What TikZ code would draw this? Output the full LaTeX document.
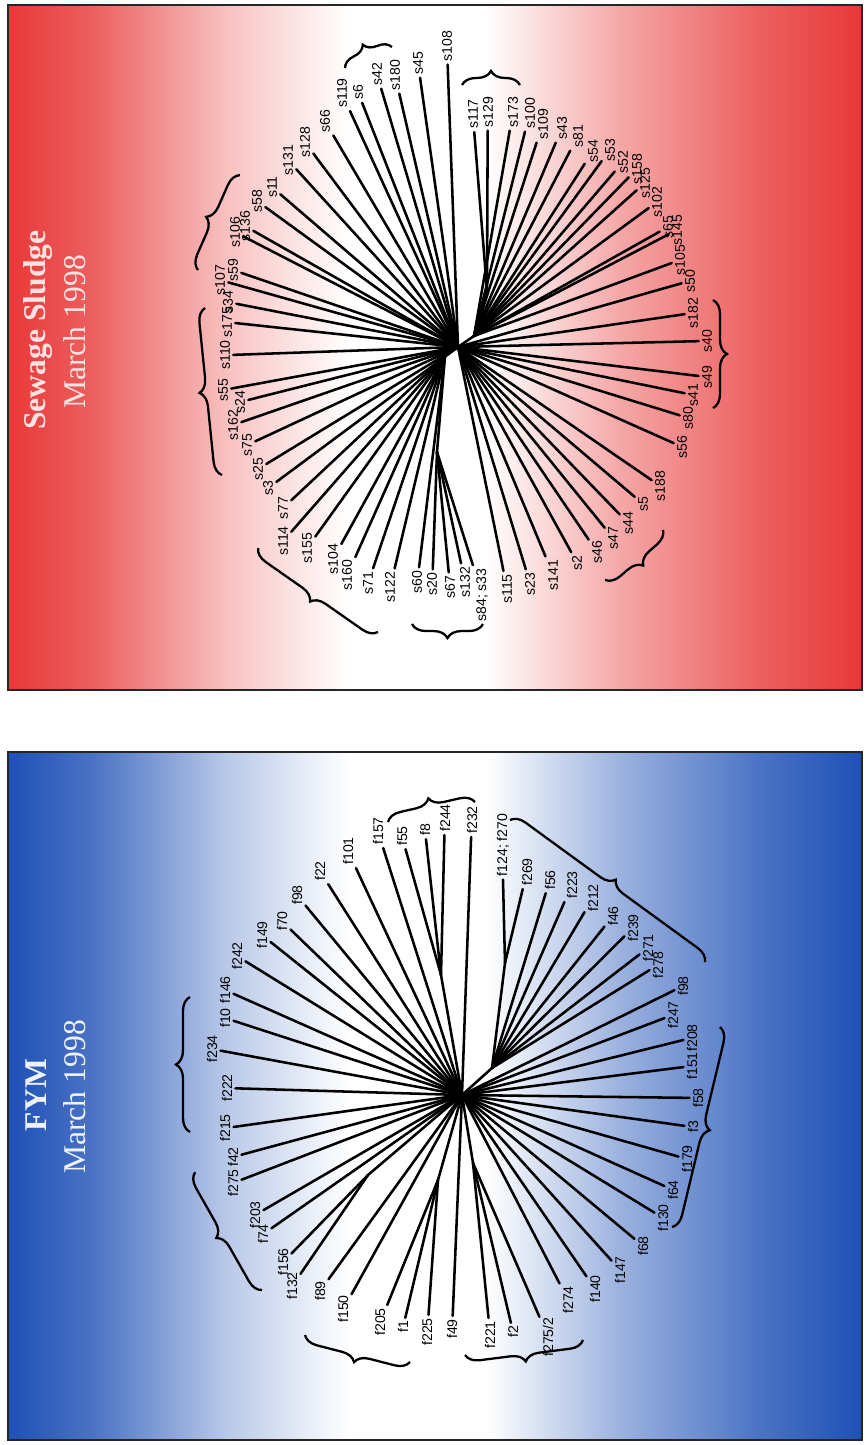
\documentclass[tikz,border=0pt]{standalone}
\usepackage{fontspec}
\setmainfont{Liberation Serif}
\setsansfont{Liberation Sans}
\usetikzlibrary{calc, decorations.pathreplacing}
\definecolor{sludgered}{RGB}{232,56,56}
\definecolor{fymblue}{RGB}{30,80,182}
\definecolor{sludgetitle}{RGB}{252,226,226}
\definecolor{fymtitle}{RGB}{238,242,252}
\colorlet{sludgeA}{sludgered!80!white}
\colorlet{sludgeB}{sludgered!30!white}
\colorlet{sludgeC}{sludgered!45!white}
\colorlet{fymA}{fymblue!80!white}
\colorlet{fymB}{fymblue!30!white}
\colorlet{fymC}{fymblue!45!white}
\pgfdeclarehorizontalshading{sludgefade}{100bp}{color(0bp)=(sludgered); color(25bp)=(sludgered); color(30bp)=(sludgeA); color(38bp)=(sludgeB); color(45bp)=(white); color(53bp)=(white); color(61bp)=(sludgeC); color(69bp)=(sludgeA); color(75bp)=(sludgered); color(100bp)=(sludgered)}
\pgfdeclarehorizontalshading{fymfade}{100bp}{color(0bp)=(fymblue); color(25bp)=(fymblue); color(30bp)=(fymA); color(38bp)=(fymB); color(45bp)=(white); color(53bp)=(white); color(61bp)=(fymC); color(69bp)=(fymA); color(75bp)=(fymblue); color(100bp)=(fymblue)}

\begin{document}
\begin{tikzpicture}[x=0.02cm, y=-0.02cm,
    leaf/.style={font=\sffamily\fontsize{8}{8}\selectfont, rotate=90, inner sep=1.2pt},
    branch/.style={line width=1.45pt, line cap=round},
    panel/.style={draw=black!85, line width=0.6pt},
    headline/.style={font=\fontsize{18}{18}\selectfont, rotate=90},
    grp/.style={decorate, decoration={brace, amplitude=8pt}, line width=1.3pt}]
\useasboundingbox (0,0) rectangle (866,1445);

% panels
\shade[shading=sludgefade] (8,5) rectangle (862,690);
\draw[panel] (8,5) rectangle (862,690);
\shade[shading=fymfade] (8,752) rectangle (862,1440);
\draw[panel] (8,752) rectangle (862,1440);

\node[headline, text=sludgetitle] (stitle) at (38,330) {\bfseries Sewage Sludge};
\node[headline, text=sludgetitle] (sdate) at (75,332) {March 1998};
\node[headline, text=fymtitle] (ftitle) at (36,1095) {\bfseries FYM};
\node[headline, text=fymtitle] (fdate) at (75,1097) {March 1998};

% sewage sludge tree
\coordinate (sroot) at (458,347);
\coordinate (sur) at (474,336);
\coordinate (su1) at (487,290);
\coordinate (sll) at (445,356);
\coordinate (sl1) at (437,452);
\foreach \a/\b in {sur/sroot, su1/sur, sll/sroot, sl1/sll}
  \draw[branch] (\a) -- (\b);

\foreach \lx/\ly/\lab/\prt [count=\i] in {
  447/46/s108/sroot, 418/63/s45/sroot, 395/75/s180/sroot, 377/74/s42/sroot,
  358/92/s6/sroot, 342/93/s119/sroot, 325/121/s66/sroot, 305/142/s128/sroot,
  288/160/s131/sroot, 272/187/s11/sroot, 257/201/s58/sroot, 245/226/s136/sroot,
  235/232/s106/sroot, 233/270/s59/sroot, 220/280/s107/sroot, 228/302/s34/sroot,
  227/322/s175/sroot, 225/355/s110/sroot, 223/390/s55/sroot, 240/402/s24/sroot,
  233/425/s162/sroot, 247/445/s75/sroot, 258/469/s25/sroot, 268/488/s3/sroot,
  283/508/s77/sll, 283/541/s114/sll, 307/548/s155/sll, 333/559/s104/sll,
  347/575/s160/sll, 368/583/s71/sll, 390/587/s122/sll, 417/582/s60/sll,
  432/584/s20/sl1, 450/587/s67/sl1, 465/582/s132/sl1, 482/595/{s84; s33}/sl1,
  507/589/s115/sroot, 530/584/s23/sroot, 553/575/s141/sroot, 577/563/s2/sroot,
  597/552/s46/sroot, 613/538/s47/sroot, 628/523/s44/sroot, 643/504/s5/sroot,
  660/486/s188/sroot, 682/447/s56/sroot, 688/418/s80/sroot, 693/395/s41/sroot,
  707/377/s49/sroot, 707/341/s40/sroot, 693/313/s182/sroot, 690/281/s50/sroot,
  680/260/s105/sur, 677/230/s145/sur, 668/227/s65/sur, 657/202/s102/sur,
  645/183/s125/sur, 637/169/s158/sur, 623/162/s52/sur, 610/150/s53/sur,
  593/151/s54/sur, 578/136/s81/sur, 562/128/s43/sur, 543/124/s109/sur,
  530/113/s100/sur, 513/112/s173/sur, 488/112/s129/su1, 473/114/s117/su1}
  \draw[branch] let \p1=(\prt), \p2=(\lx,\ly),
      \n1={int(mod(atan2(\y2-\y1,\x2-\x1)+450,360))} in
    (\p2) node[leaf] (s\i) {\lab} (\prt) -- (s\i.\n1);

% sludge groups
\draw[grp] (345,68) -- (392,47);
\draw[grp] (462,85) -- (520,85);
\draw[grp] (198,270) -- (240,175);
\draw[grp] (222,475) -- (205,308);
\draw[grp] (378,632) -- (258,548);
\draw[grp] (483,624) -- (412,624);
\draw[grp] (663,530) -- (605,580);
\draw[grp] (713,300) -- (713,408);

% fym tree
\coordinate (froot) at (462,1095);
\coordinate (fm1) at (441,975);
\coordinate (fr) at (492,1068);
\coordinate (fm2) at (505,963);
\coordinate (fb1) at (473,1163);
\coordinate (fl1) at (438,1180);
\coordinate (fl2) at (368,1175);
\foreach \a/\b in {fm1/froot, fr/froot, fm2/fr, fb1/froot, fl1/froot, fl2/froot}
  \draw[branch] (\a) -- (\b);

\foreach \lx/\ly/\lab/\prt [count=\i] in {
  472/820/f232/froot, 445/818/f244/fm1, 425/830/f8/fm1, 402/836/f55/fm1,
  378/831/f157/froot, 348/851/f101/froot, 320/871/f22/froot, 297/895/f98/froot,
  282/921/f70/froot, 262/935/f149/froot, 237/956/f242/froot, 225/990/f146/froot,
  225/1018/f10/froot, 212/1049/f234/froot, 227/1088/f222/froot, 225/1128/f215/froot,
  233/1157/f42/froot, 233/1183/f275/froot, 255/1215/f203/froot, 263/1234/f74/froot,
  283/1262/f156/fl2, 292/1286/f132/fl2, 320/1291/f89/froot, 343/1309/f150/froot,
  380/1322/f205/fl1, 403/1327/f1/fl1, 427/1332/f225/fl1, 452/1329/f49/froot,
  490/1335/f221/fb1, 513/1332/f2/fb1, 548/1337/{f275/2}/fb1, 568/1300/f274/froot,
  595/1289/f140/froot, 620/1270/f147/froot, 643/1246/f68/froot, 663/1218/f130/froot,
  673/1190/f64/froot, 687/1159/f179/froot, 693/1127/f3/froot, 698/1098/f58/froot,
  692/1066/f151/froot, 692/1038/f208/froot, 673/1015/f247/froot, 683/986/f98/froot,
  658/965/f278/fr, 648/948/f271/fr, 633/928/f239/fr, 613/916/f46/fr,
  593/898/f212/fr, 572/885/f223/fr, 550/880/f56/fr, 527/872/f269/fm2,
  503/845/{f124; f270}/fm2}
  \draw[branch] let \p1=(\prt), \p2=(\lx,\ly),
      \n1={int(mod(atan2(\y2-\y1,\x2-\x1)+450,360))} in
    (\p2) node[leaf] (f\i) {\lab} (\prt) -- (f\i.\n1);

% fym groups
\draw[grp] (388,822) -- (475,802);
\draw[grp] (510,820) -- (705,962);
\draw[grp] (720,1027) -- (672,1227);
\draw[grp] (583,1340) -- (465,1355);
\draw[grp] (410,1362) -- (305,1335);
\draw[grp] (262,1290) -- (195,1172);
\draw[grp] (190,1132) -- (190,997);
\end{tikzpicture}
\end{document}
